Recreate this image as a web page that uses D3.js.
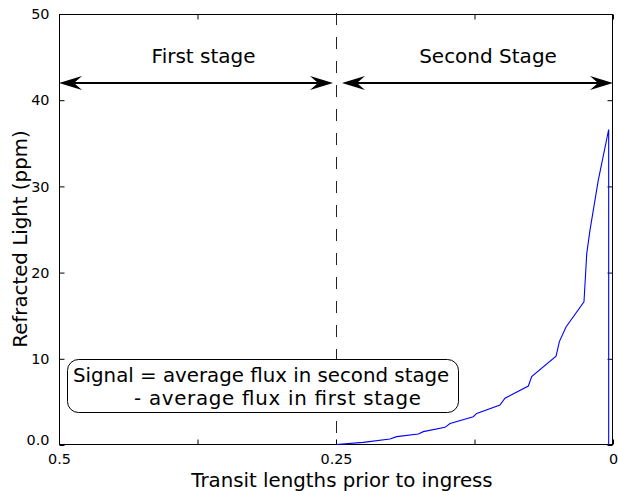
<!DOCTYPE html>
<html>
<head>
<meta charset="utf-8">
<script src="https://cdn.jsdelivr.net/npm/d3@7/dist/d3.min.js"></script>
<style>
  html, body { margin: 0; padding: 0; background: #fff; }
  svg { display: block; font-family: "DejaVu Sans", sans-serif; }
</style>
</head>
<body>
<svg id="chart" width="618" height="491"></svg>
<script>
// ---- data ----
const transitX = [0.25, 0.2254, 0.2013, 0.1952, 0.1757, 0.1712, 0.1516, 0.1471, 0.1261, 0.1230,
                  0.1020, 0.0975, 0.0764, 0.0734, 0.0514, 0.0484, 0.0424, 0.0262, 0.0237, 0.0208,
                  0.0133, 0.0039, 0.0039];
const refractedLight = [0.05, 0.31, 0.70, 0.97, 1.28, 1.55, 2.05, 2.50, 3.28, 3.67,
                        4.64, 5.42, 6.84, 7.93, 10.3, 12.0, 13.7, 16.6, 22.2, 24.9,
                        30.7, 36.6, 0.0];
const xTicks = [0.5, 0.375, 0.25, 0.125, 0];
const xTickLabels = ["0.5", "", "0.25", "", "0"];
const yTicks = [0, 10, 20, 30, 40, 50];
const yTickLabels = ["0.0", "10", "20", "30", "40", "50"];
const stageBoundary = 0.25;
const stageLabels = ["First stage", "Second Stage"];
const stageLabelX = [0.3695, 0.1128];
const stageArrowStart = [0.5, 0.2446];
const stageArrowEnd = [0.2527, 0];
const arrowLevel = 42;
const boxLines = ["Signal = average flux in second stage", "- average flux in first stage"];

// ---- layout ----
const svg = d3.select("#chart");
const L = 59, R = 613, T = 14, B = 445;
const x = d3.scaleLinear().domain([0.5, 0]).range([L, R]);
const y = d3.scaleLinear().domain([0, 50]).range([B, T]);
const big = "19.8px";

// frame
svg.append("rect").attr("x", L + 0.5).attr("y", T + 0.5)
  .attr("width", R - L - 1).attr("height", B - T - 1)
  .attr("fill", "none").attr("stroke", "#000").attr("stroke-width", 1);

// axes (inward ticks, mirrored)
const tk = 5;
const xb = d3.axisBottom(x).tickValues(xTicks).tickSizeInner(-tk).tickSizeOuter(0)
  .tickPadding(tk + 4).tickFormat((d, i) => xTickLabels[i]);
const gx = svg.append("g").attr("transform", `translate(0,${B - 0.5})`).call(xb);
const xt = d3.axisTop(x).tickValues(xTicks).tickSizeInner(-tk).tickSizeOuter(0).tickFormat("");
const gxt = svg.append("g").attr("transform", `translate(0,${T + 0.5})`).call(xt);
const yl = d3.axisLeft(y).tickValues(yTicks).tickSizeInner(-tk).tickSizeOuter(0)
  .tickPadding(tk + 5).tickFormat((d, i) => yTickLabels[i]);
const gy = svg.append("g").attr("transform", `translate(${L + 0.5},0)`).call(yl);
const yr = d3.axisRight(y).tickValues(yTicks).tickSizeInner(-tk).tickSizeOuter(0).tickFormat("");
const gyr = svg.append("g").attr("transform", `translate(${R - 0.5},0)`).call(yr);
[gx, gxt, gy, gyr].forEach(g => {
  g.select(".domain").remove();
  g.selectAll("line").attr("stroke", "#000");
  g.selectAll("text").attr("fill", "#000").style("font-family", "DejaVu Sans").style("font-size", "14.4px");
});
gy.selectAll(".tick text").filter(d => d === 0).attr("dy", "-0.05em");

// dashed boundary
svg.append("line")
  .attr("x1", Math.round(x(stageBoundary)) + 0.5).attr("x2", Math.round(x(stageBoundary)) + 0.5)
  .attr("y1", T - 1).attr("y2", B)
  .attr("stroke", "#222").attr("stroke-width", 1).attr("stroke-dasharray", "12,12");

// arrows
function head(tipX, tipY, dir) {
  const hl = 23, hw = 7, notch = 15;
  return `M${tipX},${tipY} L${tipX - dir * hl},${tipY - hw} L${tipX - dir * notch},${tipY} L${tipX - dir * hl},${tipY + hw} Z`;
}
const ay = y(arrowLevel);
stageArrowStart.forEach((s, i) => {
  const x0 = x(s), x1 = x(stageArrowEnd[i]);
  svg.append("line").attr("x1", x0 + 10).attr("x2", x1 - 10).attr("y1", ay).attr("y2", ay)
    .attr("stroke", "#000").attr("stroke-width", 2);
  svg.append("path").attr("d", head(x0, ay, -1)).attr("fill", "#000");
  svg.append("path").attr("d", head(x1, ay, 1)).attr("fill", "#000");
  svg.append("text").attr("x", x(stageLabelX[i])).attr("y", 63)
    .attr("text-anchor", "middle").style("font-size", "20px").attr("fill", "#000")
    .text(stageLabels[i]);
});

// data line
const line = d3.line().x((d, i) => x(transitX[i])).y(d => y(d));
svg.append("path").datum(refractedLight).attr("d", line)
  .attr("fill", "none").attr("stroke", "#0000ff").attr("stroke-width", 1.1);

// annotation box
svg.append("rect").attr("x", 67.5).attr("y", 359.5).attr("width", 391).attr("height", 53)
  .attr("rx", 11).attr("ry", 11).attr("fill", "#fff").attr("stroke", "#000").attr("stroke-width", 1);
svg.append("text").attr("x", 73).attr("y", 382).style("font-size", big).text(boxLines[0]);
svg.append("text").attr("x", 134).attr("y", 405).style("font-size", big)
  .attr("textLength", 287).attr("lengthAdjust", "spacing").text(boxLines[1]);

// axis titles
svg.append("text").attr("x", 342).attr("y", 487).attr("text-anchor", "middle")
  .style("font-size", big).text("Transit lengths prior to ingress");
svg.append("text").attr("transform", "translate(27,239) rotate(-90)").attr("text-anchor", "middle")
  .style("font-size", big).text("Refracted Light (ppm)");
</script>
</body>
</html>
